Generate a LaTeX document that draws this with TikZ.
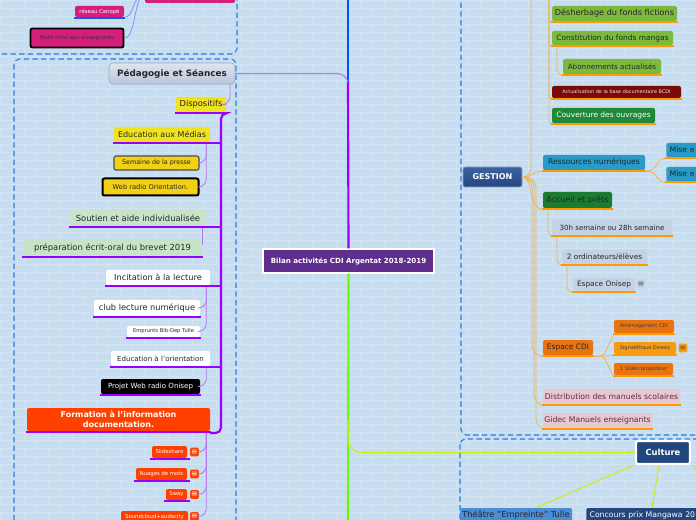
\documentclass[tikz,border=0pt]{standalone}
\usepackage{fontspec}
\setmainfont{DejaVu Sans}
\usetikzlibrary{arrows.meta}
\definecolor{bgblue}{RGB}{199,221,240}
\definecolor{mortar}{RGB}{210,227,244}
\definecolor{frameblue}{RGB}{40,125,225}
\definecolor{purp}{RGB}{153,0,255}
\definecolor{purplight}{RGB}{180,120,240}
\definecolor{orng}{RGB}{255,155,0}
\definecolor{orngline}{RGB}{240,180,90}
\definecolor{pink}{RGB}{214,30,125}
\definecolor{canopeblue}{RGB}{20,90,230}
\definecolor{slate}{RGB}{184,198,220}
\definecolor{slatedark}{RGB}{150,166,192}
\definecolor{yel}{RGB}{240,226,30}
\definecolor{yeldark}{RGB}{242,208,20}
\definecolor{mint}{RGB}{200,228,200}
\definecolor{redorange}{RGB}{255,64,0}
\definecolor{central}{RGB}{95,45,140}
\definecolor{leaf}{RGB}{125,185,60}
\definecolor{maroon}{RGB}{120,10,10}
\definecolor{forest}{RGB}{30,138,55}
\definecolor{teal}{RGB}{40,155,200}
\definecolor{mist}{RGB}{196,210,230}
\definecolor{amber}{RGB}{235,115,15}
\definecolor{amberlight}{RGB}{245,155,20}
\definecolor{rose}{RGB}{232,200,210}
\definecolor{roseink}{RGB}{95,45,60}
\definecolor{navy}{RGB}{35,70,125}
\definecolor{navytop}{RGB}{60,100,160}
\definecolor{sky}{RGB}{75,140,215}
\definecolor{lime}{RGB}{205,240,0}
\definecolor{trunkgreen}{RGB}{100,255,0}
\definecolor{trunkblue}{RGB}{0,80,255}

\begin{document}
\begin{tikzpicture}[x=0.75pt, y=-0.75pt,
  every node/.style={inner sep=1pt, align=center},
  card/.style={rounded corners=1.5pt, text=black!85, font=\fontsize{6}{7.2}\selectfont},
  wh/.style 2 args={minimum width=#1*0.75pt, minimum height=#2*0.75pt},
  fs/.style={font=\fontsize{#1}{#1}\selectfont},
  fsb/.style={font=\bfseries\fontsize{#1}{#1}\selectfont},
  dashbox/.style={draw=frameblue, dash pattern=on 4pt off 2.5pt, line width=0.8pt, rounded corners=4pt},
  trunk/.style={line width=1.6pt},
  twig/.style={line width=0.6pt, rounded corners=6pt},
  uline/.style={line width=1.5pt},
  icon/.style={fill=#1, rounded corners=1pt, minimum size=6.5pt, inner sep=0pt, font=\fontsize{6}{6}\selectfont},
  lead/.style={-{Stealth[length=4pt, width=3pt]}, lime, line width=0.7pt}]
  \useasboundingbox (0,0) rectangle (696,520);
  \clip (0,0) rectangle (696,520);
  % brick wall background
  \fill[bgblue] (0,0) rectangle (696,520);
  \foreach \r in {0,...,65} {
    \draw[mortar, line width=0.5pt] (0,\r*8) -- (696,\r*8);
    \foreach \c in {0,...,29}
      \draw[mortar, line width=0.5pt] ({\c*24+mod(\r,2)*12},\r*8) -- ++(0,8);
  }
  % dashed group frames
  \draw[dashbox] (-10,-20) rectangle (237,54);
  \draw[dashbox] (14,59) rectangle (236,540);
  \draw[dashbox] (461,-20) rectangle (710,435);
  \draw[dashbox] (460,439) rectangle (710,540);
  % centre
  \node[fill=central, draw=white, line width=0.8pt, text=white, wh={171}{24}, fsb=5.3] (centre) at (348.5,261) {Bilan activités CDI Argentat 2018-2019};
  % top left group
  \node[card, fill=pink, wh={90}{20}] (pinktop) at (190,-7) {};
  \node[card, fill=pink, text=white, wh={49}{11}, fs=4] (canope) at (99.5,11.5) {réseau Canopé};
  \node[card, fill=pink, draw=black, line width=1.4pt, text=black!80, wh={93}{19}, fs=4] (mails) at (77,38) {Mails infos aux enseignants};
  % pedagogie
  \node[card, rounded corners=3pt, top color=slate!45!white, bottom color=slate, draw=slatedark, line width=0.4pt, wh={126}{21}, fsb=6.6] (peda) at (172,73.5) {Pédagogie et Séances};
  \node[card, fill=yel, wh={50}{15}, fs=6.2] (disp) at (201,104.5) {Dispositifs};
  \node[card, fill=yel, wh={96}{15}, fs=6] (edumed) at (162,134.5) {Education aux Médias};
  \node[card, fill=yeldark, draw=black!70, line width=0.8pt, wh={85}{14}, fs=4.8] (presse) at (156.5,163) {Semaine de la presse};
  \node[card, fill=yeldark, draw=black, line width=1.5pt, wh={96}{17}, fs=5] (webradio) at (150.5,187) {Web radio Orientation.};
  \node[card, fill=mint, wh={136}{16}, fs=6.3] (soutien) at (138,218) {Soutien et aide individualisée};
  \node[card, fill=mint, wh={179}{16}, fs=6.3] (brevet) at (112.5,248) {préparation écrit-oral du brevet 2019};
  \node[card, fill=white, wh={104}{15}, fs=6.2] (incit) at (158,277.5) {Incitation à la lecture};
  \node[card, fill=white, wh={106}{16}, fs=6.2] (club) at (147,308) {club lecture numérique};
  \node[card, fill=white, wh={73}{11}, fs=3.9] (emprunts) at (163.5,331.5) {Emprunts Bib-Dep Tulle};
  \node[card, fill=white, wh={99}{15}, fs=5.3] (eduorient) at (160.5,358.5) {Education à l'orientation};
  \node[card, fill=black, text=white, wh={99}{15}, fs=5.3] (projet) at (150.5,386.5) {Projet Web radio Onisep};
  \node[card, fill=redorange, text=white, wh={183}{23}, font=\bfseries\fontsize{6}{7}\selectfont] (formation) at (118.5,419.5) {Formation à l'information\\documentation.};
  \node[card, fill=redorange, text=white, wh={35}{12}, fs=4] (slide) at (169.5,452) {Slideshare};
  \node[icon=redorange, text=white] (slideI) at (194.5,452) {≡};
  \node[card, fill=redorange, text=white, wh={51}{12}, fs=4] (nuages) at (161.5,474) {Nuages de mots};
  \node[icon=redorange, text=white] (nuagesI) at (194.5,474) {≡};
  \node[card, fill=redorange, text=white, wh={21}{11}, fs=4] (sway) at (176.5,494.5) {Sway};
  \node[icon=redorange, text=white] (swayI) at (194.5,494.5) {≡};
  \node[card, fill=redorange, text=white, wh={67}{12}, fs=4] (sound) at (154.5,517) {Soundcloud+audacity};
  \node[icon=redorange, text=white] (soundI) at (194.5,516.5) {≡};
  % gestion
  \node[card, fill=leaf, wh={125}{15}, fs=6.1] (desherb) at (614.5,13.5) {Désherbage du fonds fictions};
  \node[card, fill=leaf, wh={121}{14}, fs=5.6] (constit) at (612.5,38) {Constitution du fonds mangas};
  \node[card, fill=leaf, wh={98}{15}, fs=5.4] (abonn) at (612,66.5) {Abonnements actualisés};
  \node[card, fill=maroon, text=red!15!white, wh={129}{12}, fs=3.7] (actual) at (616.5,92) {Actualisation de la base documentaire BCDI};
  \node[card, fill=forest, text=white, wh={103}{15}, fs=5.6] (couvert) at (603.5,115.5) {Couverture des ouvrages};
  \node[card, top color=navytop, bottom color=navy, draw=navy!50!white, line width=0.5pt, text=white, wh={59}{20}, fsb=6] (gestion) at (492.5,177) {GESTION};
  \node[card, fill=teal, wh={102}{15}, fs=5.8] (ressources) at (594,162.5) {Ressources numériques};
  \node[card, fill=teal, anchor=west, text width=30pt, align=left, inner xsep=2.5pt, minimum height=10.5pt, fs=5.8] (misee1) at (666,150) {Mise e};
  \node[card, fill=teal, anchor=west, text width=30pt, align=left, inner xsep=2.5pt, minimum height=10.5pt, fs=5.8] (misee2) at (666,174) {Mise e};
  \node[card, fill=forest!90!black, wh={69}{16}, fs=6] (accueil) at (577.5,200) {Accueil et prêts};
  \node[card, fill=mist, wh={120}{15}, fs=5.3] (hours) at (612,227.5) {30h semaine ou 28h semaine};
  \node[card, fill=mist, wh={85}{14}, fs=5.5] (ordis) at (604.5,257) {2 ordinateurs/élèves};
  \node[card, fill=mist, wh={62}{13}, fs=5.5] (onisep) at (604,284.5) {Espace Onisep};
  \node[icon=mist, text=black!70] (onisepI) at (641,284) {≡};
  \node[card, fill=amber, text=black!75, wh={60}{13}, fs=3.8] (amenag) at (644,326.5) {Aménagement CDI};
  \node[card, fill=amber, wh={50}{15}, fs=5.6] (espacecdi) at (568,347.5) {Espace CDI};
  \node[card, fill=amberlight, text=black!75, wh={62}{12}, fs=3.8] (signal) at (645,348) {Signalétique Dewey};
  \node[icon=amberlight, text=black!70] (signalI) at (683,348) {≡};
  \node[card, fill=amber, text=black!75, wh={59}{12}, fs=3.8] (video) at (643.5,369) {1 Vidéo projecteur};
  \node[card, fill=rose, text=roseink, wh={137}{15}, fs=5.8] (distrib) at (611.5,396.5) {Distribution des manuels scolaires};
  \node[card, fill=rose, text=roseink, wh={109}{15}, fs=5.8] (gidec) at (597.5,420.5) {Gidec Manuels enseignants};
  % culture
  \node[card, fill=navy, draw=white, line width=1.6pt, text=white, wh={54}{23}, fsb=6.3] (culture) at (663,452.5) {Culture};
  \node[card, fill=sky, wh={112}{14}, fs=6.2] (theatre) at (516,515) {Théâtre "Empreinte" Tulle};
  \node[card, fill=navy, text=white, anchor=west, text width=105pt, align=left, inner xsep=2.5pt, minimum height=10.5pt, fs=5.8] (concours) at (586,515) {Concours prix Mangawa 20};
  \coordinate (concoursTop) at (652,508);
  \coordinate (offright) at (702,476);
  \coordinate (trunkx) at (221,0);
  % main trunk
  \draw[trunkblue, trunk] (348,0) -- (348,90);
  \draw[purplight, line width=0.8pt, rounded corners=8pt] (peda.east) -| (348,95);
  \draw[purp, trunk] (348,82) -- (centre.north);
  \draw[trunkgreen, trunk] (centre.south) -- (348,520);
  \draw[lime, line width=0.8pt, rounded corners=10pt] (348,420) |- (culture.west);
  % top left links
  \draw[canopeblue!60, line width=0.6pt] (canope.south east) .. controls (134,18) and (132,-4) .. (pinktop.west);
  \draw[canopeblue!60, line width=0.6pt] (mails.east) .. controls (136,38) and (134,-4) .. (pinktop.west);
  % pedagogie links
  \draw[purplight, twig] ([xshift=-4pt]peda.south east) |- (disp.east);
  \draw[purp, trunk, rounded corners=4pt] ([yshift=-0.8pt]disp.south east) -- (221,113.5) -- (221,433) -- (210,433);
  \foreach \n in {edumed,soutien,incit,eduorient}
    \draw[purp, trunk] ([yshift=-0.8pt]\n.south east) -- ([yshift=-0.8pt]\n.south east -| trunkx);
  \draw[purplight, twig] ([xshift=-3pt]edumed.south east) |- (presse.east);
  \draw[purplight, twig] ([xshift=-3pt]edumed.south east) |- (webradio.east);
  \draw[purplight, twig] ([xshift=-3pt]soutien.south east) |- ([yshift=2pt]brevet.east);
  \draw[purplight, twig] ([xshift=-3pt]incit.south east) |- (club.east);
  \draw[purplight, twig] ([xshift=-3pt]incit.south east) |- (emprunts.east);
  \draw[purplight, twig] ([xshift=-3pt]eduorient.south east) |- (projet.east);
  \foreach \n in {slideI,nuagesI,swayI,soundI}
    \draw[purplight, twig] ([xshift=-3pt]formation.south east) |- (\n.east);
  % gestion links
  \draw[orngline, twig] (gestion.east) -| (531,0);
  \foreach \n in {desherb,constit,actual,couvert}
    \draw[orngline, twig, rounded corners=3pt] (549,0) |- ([yshift=-0.8pt]\n.south west);
  \draw[orngline, twig, rounded corners=4pt] ([xshift=4pt]constit.south west) |- ([yshift=-0.8pt]abonn.south west);
  \draw[orngline, line width=0.6pt] (gestion.east) .. controls (536,177) and (530,171) .. ([yshift=-0.8pt]ressources.south west);
  \draw[orngline, line width=0.6pt] (gestion.east) .. controls (534,177) and (528,209) .. ([yshift=-0.8pt]accueil.south west);
  \draw[orngline, twig, rounded corners=8pt] (gestion.east) -| (532,356) -- ([yshift=-0.8pt]espacecdi.south west);
  \draw[orngline, twig, rounded corners=8pt] (gestion.east) -| (534,405) -- ([yshift=-0.8pt]distrib.south west);
  \draw[orngline, twig, rounded corners=8pt] (gestion.east) -| (536,429) -- ([yshift=-0.8pt]gidec.south west);
  \draw[orngline, line width=0.6pt] ([yshift=-0.8pt]ressources.south east) .. controls (660,171) and (654,158) .. ([yshift=-0.8pt]misee1.south west);
  \draw[orngline, line width=0.6pt] ([yshift=-0.8pt]ressources.south east) .. controls (660,171) and (654,182) .. ([yshift=-0.8pt]misee2.south west);
  \draw[orngline, twig, rounded corners=4pt] ([xshift=4pt]accueil.south west) |- ([yshift=-0.8pt]hours.south west);
  \draw[orngline, twig, rounded corners=4pt] ([xshift=4pt]hours.south west) |- ([yshift=-0.8pt]ordis.south west);
  \draw[orngline, twig, rounded corners=4pt] ([xshift=4pt]ordis.south west) |- ([yshift=-0.8pt]onisep.south west);
  \foreach \n in {amenag,signal,video}
    \draw[orngline, line width=0.6pt] ([yshift=-0.8pt]espacecdi.south east) .. controls (608,356) and (602,356) .. ([yshift=-0.8pt]\n.south west);
  % culture links
  \draw[lead] ([xshift=-1pt]culture.south west) -- ([xshift=15pt]theatre.north);
  \draw[lead] ([xshift=-3pt]culture.south) -- (concoursTop);
  \draw[lead] ([xshift=1pt]culture.south east) -- (offright);
  % underlines
  \draw[canopeblue, uline] ([xshift=-0.8pt,yshift=-0.8pt]canope.south west) -- ([xshift=0.8pt,yshift=-0.8pt]canope.south east);
  \foreach \n in {disp,edumed,soutien,brevet,incit,club,emprunts,eduorient,projet,formation}
    \draw[purp, uline] ([xshift=-0.8pt,yshift=-0.8pt]\n.south west) -- ([xshift=0.8pt,yshift=-0.8pt]\n.south east);
  \foreach \n in {slide,nuages,sway,sound}
    \draw[purp, uline] ([xshift=-1.5pt,yshift=-0.8pt]\n.south west) -- ([xshift=2pt,yshift=-0.8pt]\n.south east);
  \foreach \n in {desherb,constit,abonn,actual,couvert,ressources,misee1,misee2,accueil,hours,ordis,onisep,amenag,espacecdi,signal,video,distrib,gidec}
    \draw[orng, uline] ([xshift=-0.8pt,yshift=-0.8pt]\n.south west) -- ([xshift=0.8pt,yshift=-0.8pt]\n.south east);
\end{tikzpicture}
\end{document}
